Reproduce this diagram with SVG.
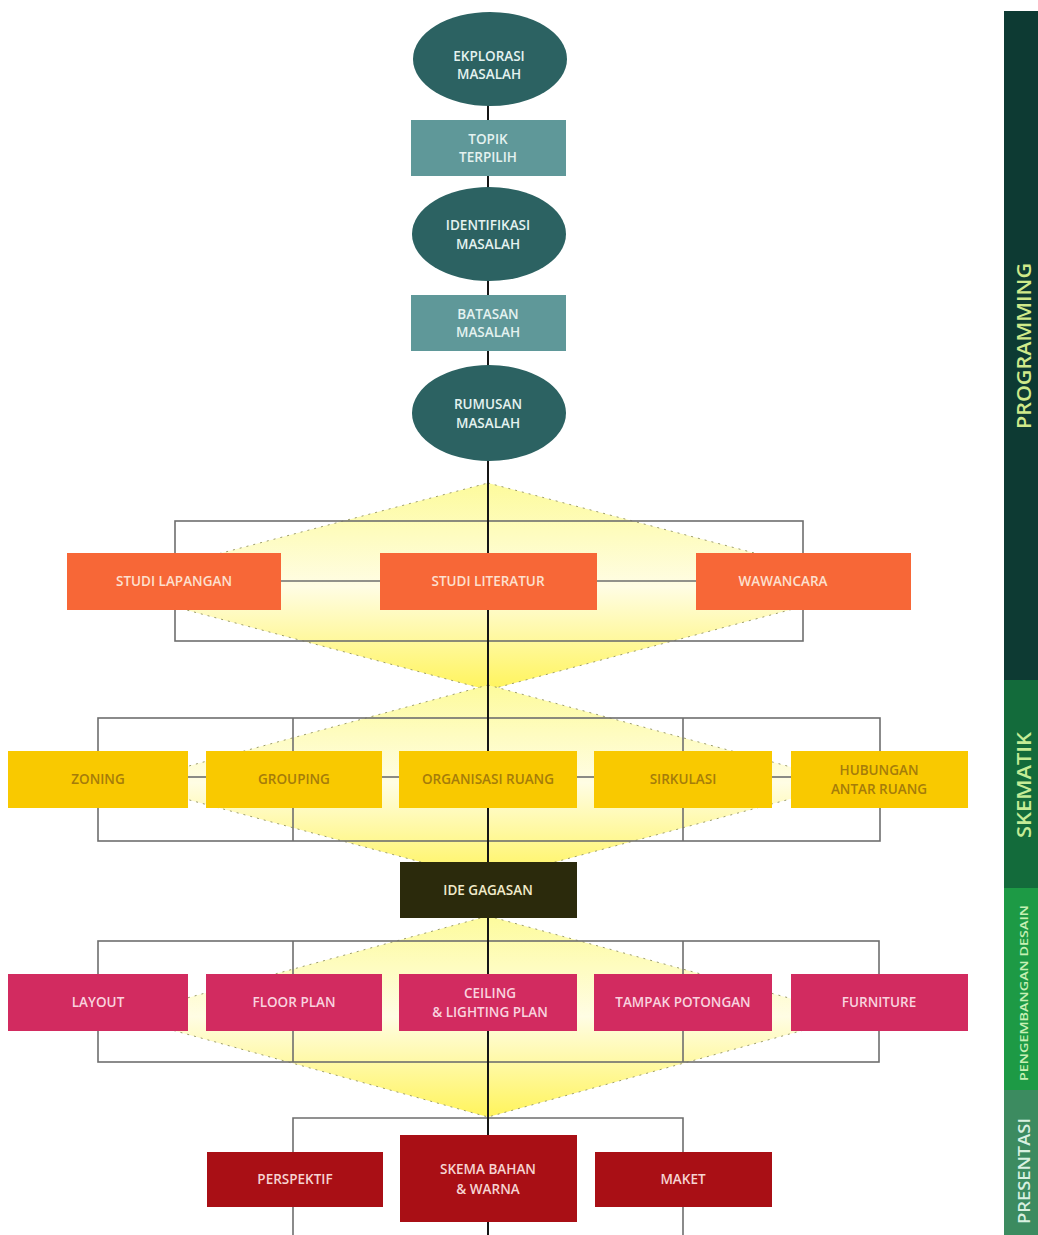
<svg xmlns="http://www.w3.org/2000/svg" width="1038" height="1235" viewBox="0 0 1038 1235">
<defs>
<linearGradient id="yel" x1="0" y1="0" x2="0" y2="1">
<stop offset="0" stop-color="#fdfb9c"/>
<stop offset="0.5" stop-color="#fffde4"/>
<stop offset="1" stop-color="#fff45c"/>
</linearGradient>
<style>
text{font-family:"Open Sans","Liberation Sans",sans-serif;font-weight:600;text-anchor:middle;dominant-baseline:central}
.dia{fill:url(#yel);stroke:#9c9c6a;stroke-width:1;stroke-dasharray:2 5}
.br{fill:none;stroke:#6e6e6e;stroke-width:1.6}
.main{stroke:#151515;stroke-width:2}
.ell{fill:#2c6262}
.tr{fill:#5f9899}
.tt{fill:#e4f2f0;font-size:13.5px}
.or{fill:#f76737}
.ot{fill:#fde0cf;font-size:13.5px}
.go{fill:#f9c900}
.gt{fill:#a57c0a;font-size:13.5px}
.pk{fill:#d22b60}
.pt{fill:#f9d3df;font-size:13.5px}
.rd{fill:#a90f15}
.rt{fill:#f6d4d2;font-size:13.5px}
</style>
</defs>
<rect width="1038" height="1235" fill="#ffffff"/>

<g id="diamonds">
<polygon class="dia" points="488,483 880,586 488,690 96,586"/>
<polygon class="dia" points="488,685 850,783 488,880 126,783"/>
<polygon class="dia" points="488,916 855,1016 488,1117 121,1016"/>
</g>

<g id="connectors">
<rect class="br" x="175" y="521" width="628" height="120"/>
<line class="br" x1="281" y1="581" x2="380" y2="581"/>
<line class="br" x1="597" y1="581" x2="696" y2="581"/>
<rect class="br" x="98" y="718" width="782" height="123"/>
<line class="br" x1="293" y1="718" x2="293" y2="841"/>
<line class="br" x1="683" y1="718" x2="683" y2="841"/>
<line class="br" x1="188" y1="777" x2="206" y2="777"/>
<line class="br" x1="382" y1="777" x2="399" y2="777"/>
<line class="br" x1="577" y1="777" x2="594" y2="777"/>
<line class="br" x1="772" y1="777" x2="791" y2="777"/>
<rect class="br" x="98" y="941" width="781" height="121"/>
<line class="br" x1="293" y1="941" x2="293" y2="1062"/>
<line class="br" x1="683" y1="941" x2="683" y2="1062"/>
<polyline class="br" points="293,1235 293,1118 683,1118 683,1235"/>
<line class="main" x1="488" y1="100" x2="488" y2="1235"/>
</g>

<g id="n-eksplorasi"><ellipse class="ell" cx="490" cy="59" rx="77" ry="47"/><text class="tt" x="489" y="56">EKPLORASI</text><text class="tt" x="489" y="74">MASALAH</text></g>
<g id="n-topik"><rect class="tr" x="411" y="120" width="155" height="56"/><text class="tt" x="488" y="139">TOPIK</text><text class="tt" x="488" y="157">TERPILIH</text></g>
<g id="n-identifikasi"><ellipse class="ell" cx="489" cy="234" rx="77" ry="47"/><text class="tt" x="488" y="225">IDENTIFIKASI</text><text class="tt" x="488" y="244">MASALAH</text></g>
<g id="n-batasan"><rect class="tr" x="411" y="295" width="155" height="56"/><text class="tt" x="488" y="314">BATASAN</text><text class="tt" x="488" y="332">MASALAH</text></g>
<g id="n-rumusan"><ellipse class="ell" cx="489" cy="413" rx="77" ry="48"/><text class="tt" x="488" y="404">RUMUSAN</text><text class="tt" x="488" y="423">MASALAH</text></g>

<g id="n-studi-lapangan"><rect class="or" x="67" y="553" width="214" height="57"/><text class="ot" x="174" y="581">STUDI LAPANGAN</text></g>
<g id="n-studi-literatur"><rect class="or" x="380" y="553" width="217" height="57"/><text class="ot" x="488" y="581">STUDI LITERATUR</text></g>
<g id="n-wawancara"><rect class="or" x="696" y="553" width="215" height="57"/><text class="ot" x="783" y="581">WAWANCARA</text></g>

<g id="n-zoning"><rect class="go" x="8" y="751" width="180" height="57"/><text class="gt" x="98" y="779">ZONING</text></g>
<g id="n-grouping"><rect class="go" x="206" y="751" width="176" height="57"/><text class="gt" x="294" y="779">GROUPING</text></g>
<g id="n-organisasi"><rect class="go" x="399" y="751" width="178" height="57"/><text class="gt" x="488" y="779">ORGANISASI RUANG</text></g>
<g id="n-sirkulasi"><rect class="go" x="594" y="751" width="178" height="57"/><text class="gt" x="683" y="779">SIRKULASI</text></g>
<g id="n-hubungan"><rect class="go" x="791" y="751" width="177" height="57"/><text class="gt" x="879" y="770">HUBUNGAN</text><text class="gt" x="879" y="789">ANTAR RUANG</text></g>

<g id="n-ide"><rect x="400" y="862" width="177" height="56" fill="#2b2a0c"/><text x="488" y="890" fill="#f1ebcb" style="font-size:13.5px">IDE GAGASAN</text></g>

<g id="n-layout"><rect class="pk" x="8" y="974" width="180" height="57"/><text class="pt" x="98" y="1002">LAYOUT</text></g>
<g id="n-floor"><rect class="pk" x="206" y="974" width="176" height="57"/><text class="pt" x="294" y="1002">FLOOR PLAN</text></g>
<g id="n-ceiling"><rect class="pk" x="399" y="974" width="178" height="57"/><text class="pt" x="490" y="993">CEILING</text><text class="pt" x="490" y="1012">&amp; LIGHTING PLAN</text></g>
<g id="n-tampak"><rect class="pk" x="594" y="974" width="178" height="57"/><text class="pt" x="683" y="1002">TAMPAK POTONGAN</text></g>
<g id="n-furniture"><rect class="pk" x="791" y="974" width="177" height="57"/><text class="pt" x="879" y="1002">FURNITURE</text></g>

<g id="n-perspektif"><rect class="rd" x="207" y="1152" width="176" height="55"/><text class="rt" x="295" y="1179">PERSPEKTIF</text></g>
<g id="n-skema"><rect class="rd" x="400" y="1135" width="177" height="87"/><text class="rt" x="488" y="1169">SKEMA BAHAN</text><text class="rt" x="488" y="1189">&amp; WARNA</text></g>
<g id="n-maket"><rect class="rd" x="595" y="1152" width="177" height="55"/><text class="rt" x="683" y="1179">MAKET</text></g>

<g id="sidebar">
<rect x="1004" y="11" width="34" height="670" fill="#0d3a33"/>
<rect x="1004" y="680" width="34" height="209" fill="#136b3b"/>
<rect x="1004" y="888" width="34" height="203" fill="#1d9a45"/>
<rect x="1004" y="1090" width="34" height="145" fill="#3c8b60"/>
<text transform="translate(1024,346) rotate(-90)" fill="#cfe98a" style="font-size:19px" textLength="166" lengthAdjust="spacingAndGlyphs">PROGRAMMING</text>
<text transform="translate(1024,785) rotate(-90)" fill="#c4ec96" style="font-size:19px" textLength="106" lengthAdjust="spacingAndGlyphs">SKEMATIK</text>
<text transform="translate(1023,993) rotate(-90)" fill="#c6f0b4" style="font-size:11.5px" textLength="176" lengthAdjust="spacingAndGlyphs">PENGEMBANGAN DESAIN</text>
<text transform="translate(1024,1171) rotate(-90)" fill="#d8f0e0" style="font-size:16px" textLength="106" lengthAdjust="spacingAndGlyphs">PRESENTASI</text>
</g>
</svg>
